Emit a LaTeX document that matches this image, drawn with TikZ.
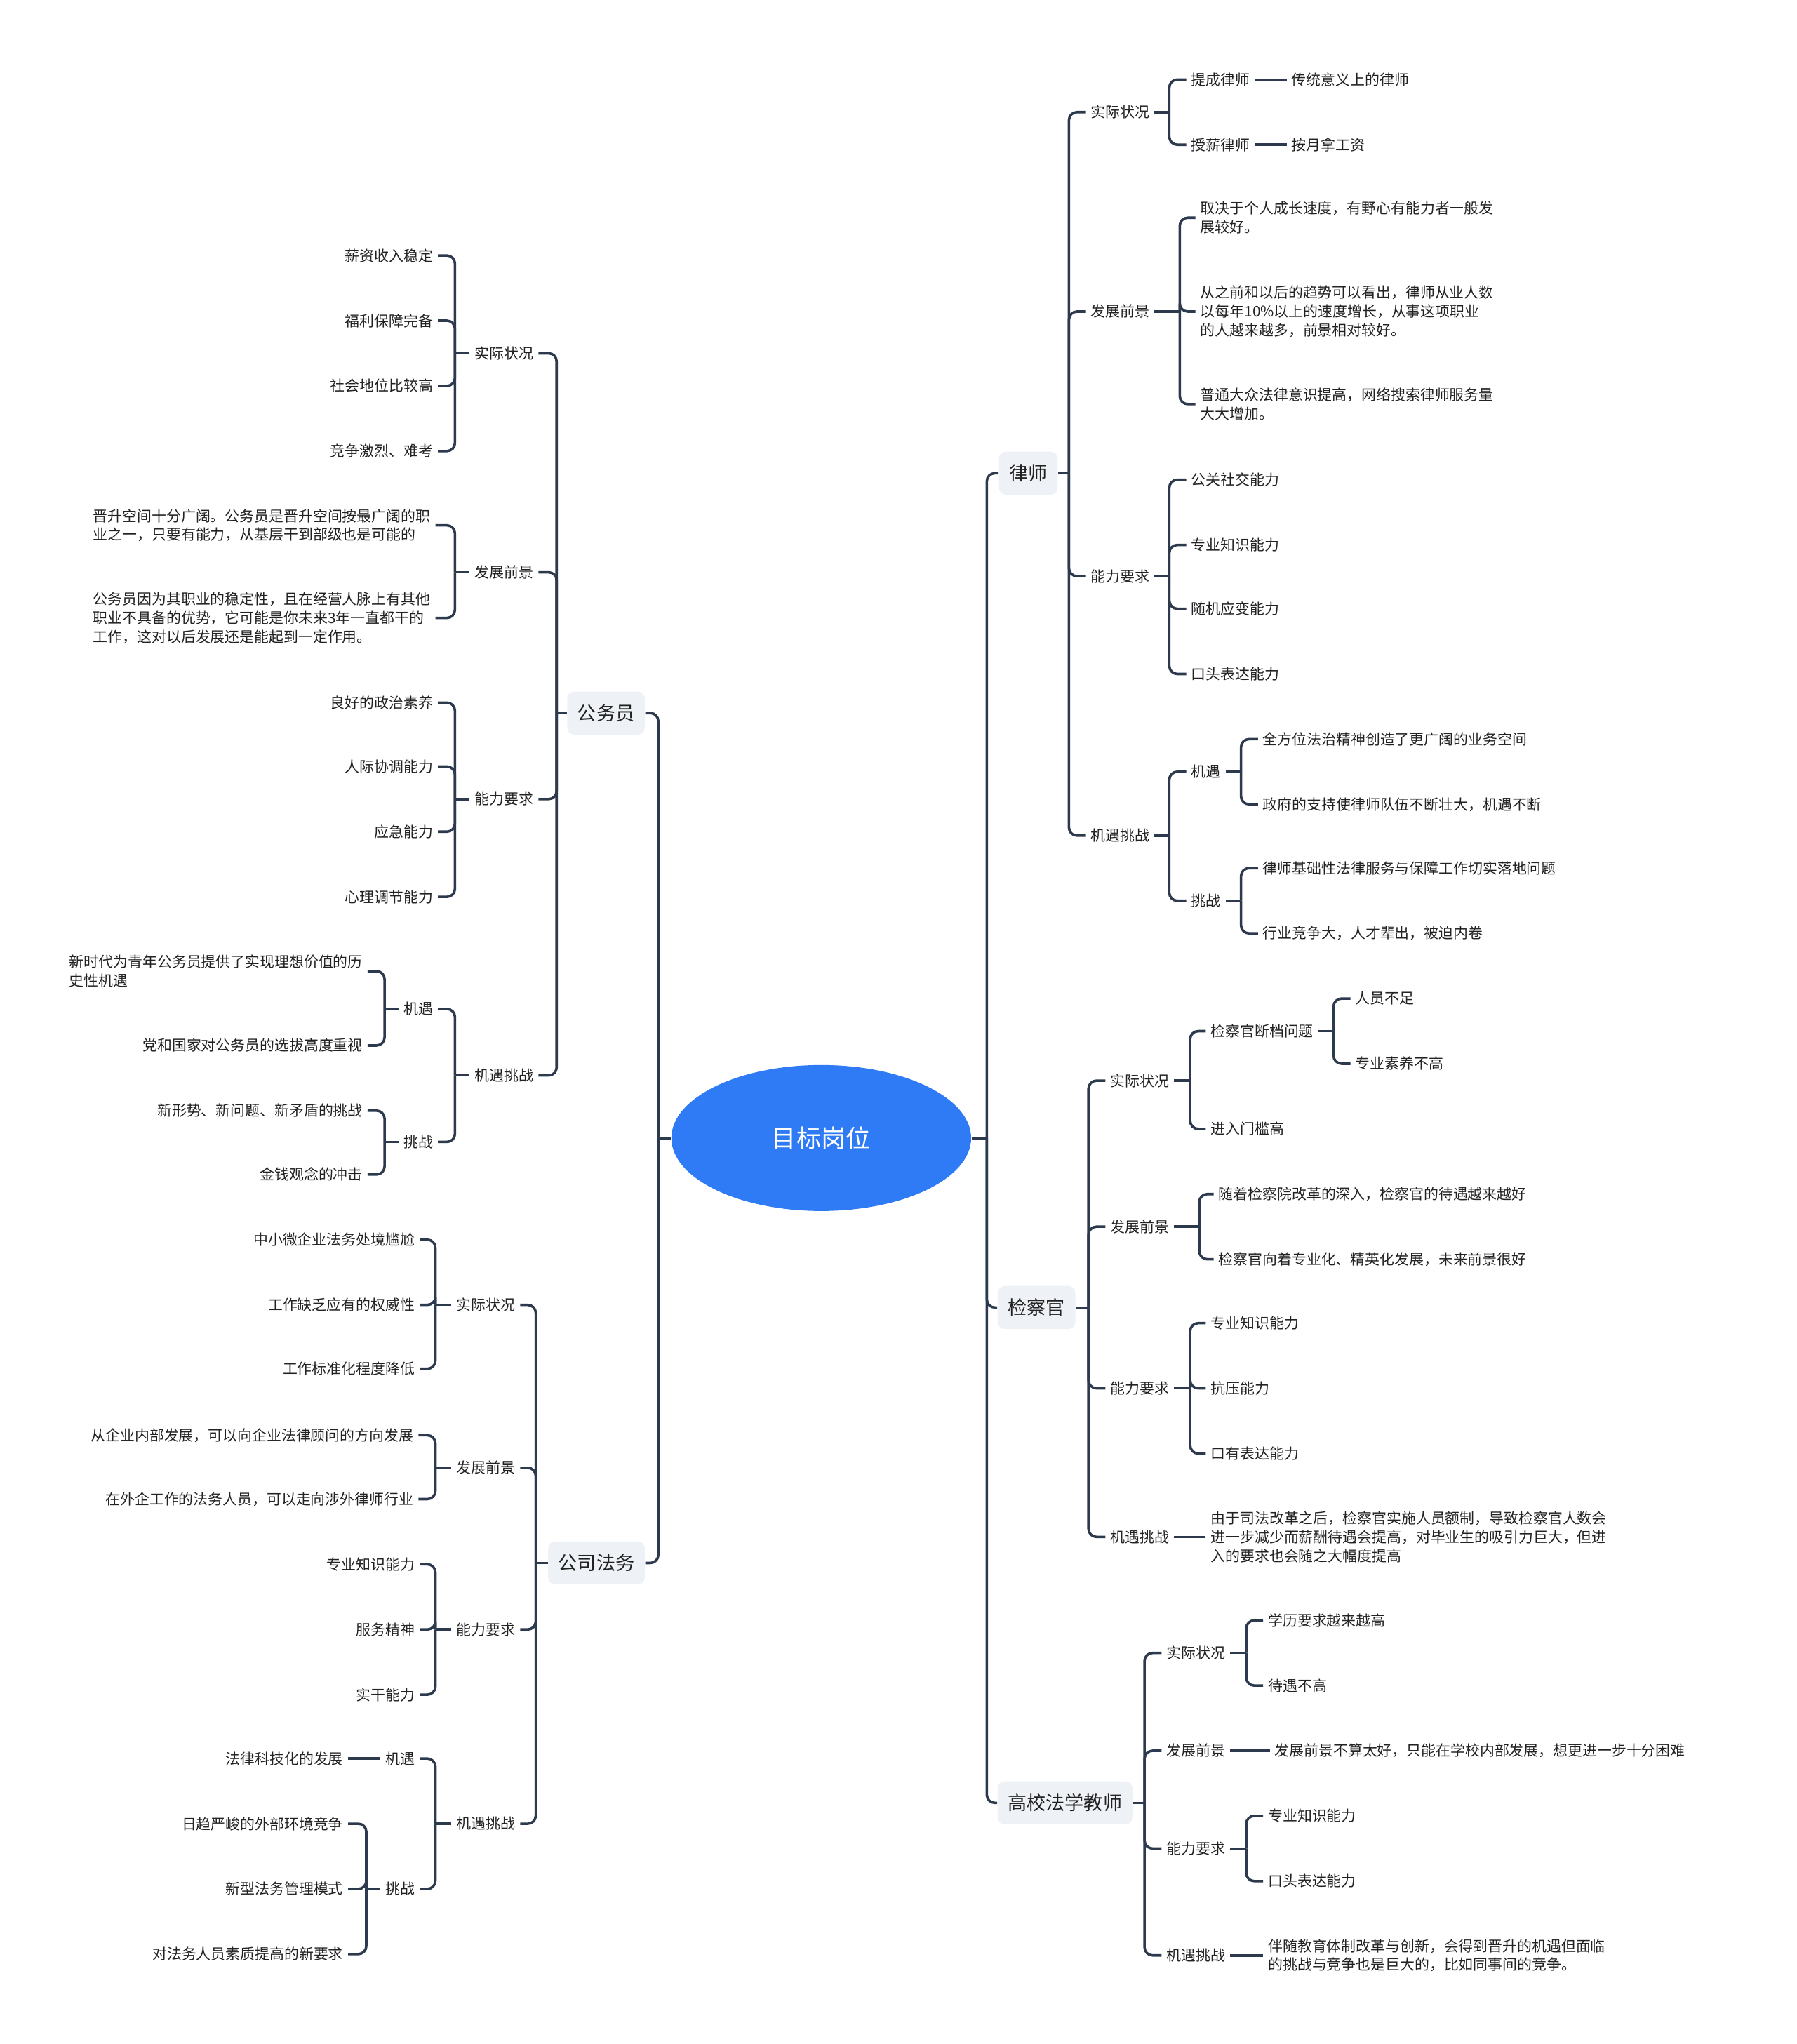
\documentclass[tikz,border=0pt]{standalone}
\usepackage{fontspec}
\newfontfamily\cjk{Noto Sans CJK SC}
\usetikzlibrary{shapes.geometric}
\definecolor{linec}{RGB}{45,58,78}
\definecolor{textc}{RGB}{34,34,34}
\definecolor{boxc}{RGB}{238,241,246}
\definecolor{rootc}{RGB}{46,123,245}
\begin{document}
\begin{tikzpicture}[x=0.02cm, y=-0.02cm,
        link/.style={draw=linec, line width=1.1pt, rounded corners=3.5pt},
        leaf/.style={font=\cjk\fontsize{6.4}{8.2}\selectfont, text=textc, inner xsep=2pt, inner ysep=1pt, align=left},
        rleaf/.style={leaf, anchor=west},
        lleaf/.style={leaf, anchor=east},
        topic/.style={fill=boxc, rounded corners=3pt, font=\cjk\fontsize{8.3}{10}\selectfont, text=textc, minimum height=0.66cm, inner xsep=4.5pt},
        hub/.style={ellipse, fill=rootc, text=white, minimum width=4.6cm, minimum height=2.24cm, inner sep=0pt, font=\cjk\fontsize{10.8}{13}\selectfont}
    ]
        \useasboundingbox (0,0) rectangle (1378,1568);

        % Centre
        \node[hub] (root) at (630,873) {目标岗位};

        % Main topics
        \node[topic, anchor=west] (ls) at (766,363) {律师};
        \node[topic, anchor=west] (jc) at (765,1003) {检察官};
        \node[topic, anchor=west] (gx) at (765,1383) {高校法学教师};
        \node[topic, anchor=east] (gw) at (495,547) {公务员};
        \node[topic, anchor=east] (fw) at (495,1199) {公司法务};

        % Lawyer
        \node[rleaf] (ls1) at (833,86) {实际状况};
        \node[rleaf] (ls1a) at (910,61) {提成律师};
        \node[rleaf] (ls1a1) at (987,61) {传统意义上的律师};
        \node[rleaf] (ls1b) at (910,111) {授薪律师};
        \node[rleaf] (ls1b1) at (987,111) {按月拿工资};
        \node[rleaf] (ls2) at (833,239) {发展前景};
        \node[rleaf] (ls2a) at (917,167) {取决于个人成长速度，有野心有能力者一般发\\展较好。};
        \node[rleaf] (ls2b) at (917,239) {从之前和以后的趋势可以看出，律师从业人数\\以每年10\%以上的速度增长，从事这项职业\\的人越来越多，前景相对较好。};
        \node[rleaf] (ls2c) at (917,310) {普通大众法律意识提高，网络搜索律师服务量\\大大增加。};
        \node[rleaf] (ls3) at (833,442) {能力要求};
        \node[rleaf] (ls3a) at (910,368) {公关社交能力};
        \node[rleaf] (ls3b) at (910,418) {专业知识能力};
        \node[rleaf] (ls3c) at (910,467) {随机应变能力};
        \node[rleaf] (ls3d) at (910,517) {口头表达能力};
        \node[rleaf] (ls4) at (833,641) {机遇挑战};
        \node[rleaf] (ls4a) at (910,592) {机遇};
        \node[rleaf] (ls4a1) at (965,567) {全方位法治精神创造了更广阔的业务空间};
        \node[rleaf] (ls4a2) at (965,617) {政府的支持使律师队伍不断壮大，机遇不断};
        \node[rleaf] (ls4b) at (910,691) {挑战};
        \node[rleaf] (ls4b1) at (965,666) {律师基础性法律服务与保障工作切实落地问题};
        \node[rleaf] (ls4b2) at (965,716) {行业竞争大，人才辈出，被迫内卷};

        % Prosecutor
        \node[rleaf] (jc1) at (848,829) {实际状况};
        \node[rleaf] (jc1a) at (925,791) {检察官断档问题};
        \node[rleaf] (jc1a1) at (1036,766) {人员不足};
        \node[rleaf] (jc1a2) at (1036,816) {专业素养不高};
        \node[rleaf] (jc1b) at (925,866) {进入门槛高};
        \node[rleaf] (jc2) at (848,941) {发展前景};
        \node[rleaf] (jc2a) at (931,916) {随着检察院改革的深入，检察官的待遇越来越好};
        \node[rleaf] (jc2b) at (931,966) {检察官向着专业化、精英化发展，未来前景很好};
        \node[rleaf] (jc3) at (848,1065) {能力要求};
        \node[rleaf] (jc3a) at (925,1015) {专业知识能力};
        \node[rleaf] (jc3b) at (925,1065) {抗压能力};
        \node[rleaf] (jc3c) at (925,1115) {口有表达能力};
        \node[rleaf] (jc4) at (848,1179) {机遇挑战};
        \node[rleaf] (jc4a) at (925,1179) {由于司法改革之后，检察官实施人员额制，导致检察官人数会\\进一步减少而薪酬待遇会提高，对毕业生的吸引力巨大，但进\\入的要求也会随之大幅度提高};

        % Law teacher
        \node[rleaf] (gx1) at (891,1268) {实际状况};
        \node[rleaf] (gx1a) at (969,1243) {学历要求越来越高};
        \node[rleaf] (gx1b) at (969,1293) {待遇不高};
        \node[rleaf] (gx2) at (891,1343) {发展前景};
        \node[rleaf] (gx2a) at (974,1343) {发展前景不算太好，只能在学校内部发展，想更进一步十分困难};
        \node[rleaf] (gx3) at (891,1418) {能力要求};
        \node[rleaf] (gx3a) at (969,1393) {专业知识能力};
        \node[rleaf] (gx3b) at (969,1443) {口头表达能力};
        \node[rleaf] (gx4) at (891,1500) {机遇挑战};
        \node[rleaf] (gx4a) at (969,1500) {伴随教育体制改革与创新，会得到晋升的机遇但面临\\的挑战与竞争也是巨大的，比如同事间的竞争。};

        % Civil servant
        \node[lleaf] (gw1) at (413,271) {实际状况};
        \node[lleaf] (gw1a) at (336,196) {薪资收入稳定};
        \node[lleaf] (gw1b) at (336,246) {福利保障完备};
        \node[lleaf] (gw1c) at (336,296) {社会地位比较高};
        \node[lleaf] (gw1d) at (336,346) {竞争激烈、难考};
        \node[lleaf] (gw2) at (413,439) {发展前景};
        \node[lleaf] (gw2a) at (334,403) {晋升空间十分广阔。公务员是晋升空间按最广阔的职\\业之一，只要有能力，从基层干到部级也是可能的};
        \node[lleaf] (gw2b) at (334,474) {公务员因为其职业的稳定性，且在经营人脉上有其他\\职业不具备的优势，它可能是你未来3年一直都干的\\工作，这对以后发展还是能起到一定作用。};
        \node[lleaf] (gw3) at (413,613) {能力要求};
        \node[lleaf] (gw3a) at (336,539) {良好的政治素养};
        \node[lleaf] (gw3b) at (336,588) {人际协调能力};
        \node[lleaf] (gw3c) at (336,638) {应急能力};
        \node[lleaf] (gw3d) at (336,688) {心理调节能力};
        \node[lleaf] (gw4) at (413,825) {机遇挑战};
        \node[lleaf] (gw4a) at (336,774) {机遇};
        \node[lleaf] (gw4a1) at (282,745) {新时代为青年公务员提供了实现理想价值的历\\史性机遇};
        \node[lleaf] (gw4a2) at (282,802) {党和国家对公务员的选拔高度重视};
        \node[lleaf] (gw4b) at (336,876) {挑战};
        \node[lleaf] (gw4b1) at (282,852) {新形势、新问题、新矛盾的挑战};
        \node[lleaf] (gw4b2) at (282,901) {金钱观念的冲击};

        % Corporate legal
        \node[lleaf] (fw1) at (399,1001) {实际状况};
        \node[lleaf] (fw1a) at (322,951) {中小微企业法务处境尴尬};
        \node[lleaf] (fw1b) at (322,1001) {工作缺乏应有的权威性};
        \node[lleaf] (fw1c) at (322,1050) {工作标准化程度降低};
        \node[lleaf] (fw2) at (399,1126) {发展前景};
        \node[lleaf] (fw2a) at (321,1101) {从企业内部发展，可以向企业法律顾问的方向发展};
        \node[lleaf] (fw2b) at (321,1150) {在外企工作的法务人员，可以走向涉外律师行业};
        \node[lleaf] (fw3) at (399,1250) {能力要求};
        \node[lleaf] (fw3a) at (322,1200) {专业知识能力};
        \node[lleaf] (fw3b) at (322,1250) {服务精神};
        \node[lleaf] (fw3c) at (322,1300) {实干能力};
        \node[lleaf] (fw4) at (399,1399) {机遇挑战};
        \node[lleaf] (fw4a) at (322,1349) {机遇};
        \node[lleaf] (fw4a1) at (267,1349) {法律科技化的发展};
        \node[lleaf] (fw4b) at (322,1449) {挑战};
        \node[lleaf] (fw4b1) at (267,1399) {日趋严峻的外部环境竞争};
        \node[lleaf] (fw4b2) at (267,1449) {新型法务管理模式};
        \node[lleaf] (fw4b3) at (267,1499) {对法务人员素质提高的新要求};

        % Trunks from the centre
        \draw[link] (root) -- (root -| 757,0);
        \draw[link] (root -| 757,0) |- (ls);
        \draw[link] (root -| 757,0) |- (jc);
        \draw[link] (root -| 757,0) |- (gx);
        \draw[link] (root) -- (root -| 505,0);
        \draw[link] (root -| 505,0) |- (gw);
        \draw[link] (root -| 505,0) |- (fw);

        % Lawyer links
        \draw[link] (ls) -- (ls -| 820,0);
        \draw[link] (ls -| 820,0) |- (ls1);
        \draw[link] (ls -| 820,0) |- (ls2);
        \draw[link] (ls -| 820,0) |- (ls3);
        \draw[link] (ls -| 820,0) |- (ls4);
        \draw[link] (ls1) -- (ls1 -| 897,0);
        \draw[link] (ls1 -| 897,0) |- (ls1a);
        \draw[link] (ls1 -| 897,0) |- (ls1b);
        \draw[link] (ls1a) -- (ls1a1);
        \draw[link] (ls1b) -- (ls1b1);
        \draw[link] (ls2) -- (ls2 -| 905,0);
        \draw[link] (ls2 -| 905,0) |- (ls2a);
        \draw[link] (ls2 -| 905,0) |- (ls2b);
        \draw[link] (ls2 -| 905,0) |- (ls2c);
        \draw[link] (ls3) -- (ls3 -| 897,0);
        \draw[link] (ls3 -| 897,0) |- (ls3a);
        \draw[link] (ls3 -| 897,0) |- (ls3b);
        \draw[link] (ls3 -| 897,0) |- (ls3c);
        \draw[link] (ls3 -| 897,0) |- (ls3d);
        \draw[link] (ls4) -- (ls4 -| 897,0);
        \draw[link] (ls4 -| 897,0) |- (ls4a);
        \draw[link] (ls4 -| 897,0) |- (ls4b);
        \draw[link] (ls4a) -- (ls4a -| 952,0);
        \draw[link] (ls4a -| 952,0) |- (ls4a1);
        \draw[link] (ls4a -| 952,0) |- (ls4a2);
        \draw[link] (ls4b) -- (ls4b -| 952,0);
        \draw[link] (ls4b -| 952,0) |- (ls4b1);
        \draw[link] (ls4b -| 952,0) |- (ls4b2);

        % Prosecutor links
        \draw[link] (jc) -- (jc -| 835,0);
        \draw[link] (jc -| 835,0) |- (jc1);
        \draw[link] (jc -| 835,0) |- (jc2);
        \draw[link] (jc -| 835,0) |- (jc3);
        \draw[link] (jc -| 835,0) |- (jc4);
        \draw[link] (jc1) -- (jc1 -| 913,0);
        \draw[link] (jc1 -| 913,0) |- (jc1a);
        \draw[link] (jc1 -| 913,0) |- (jc1b);
        \draw[link] (jc1a) -- (jc1a -| 1023,0);
        \draw[link] (jc1a -| 1023,0) |- (jc1a1);
        \draw[link] (jc1a -| 1023,0) |- (jc1a2);
        \draw[link] (jc2) -- (jc2 -| 920,0);
        \draw[link] (jc2 -| 920,0) |- (jc2a);
        \draw[link] (jc2 -| 920,0) |- (jc2b);
        \draw[link] (jc3) -- (jc3 -| 913,0);
        \draw[link] (jc3 -| 913,0) |- (jc3a);
        \draw[link] (jc3 -| 913,0) |- (jc3b);
        \draw[link] (jc3 -| 913,0) |- (jc3c);
        \draw[link] (jc4) -- (jc4a);

        % Law teacher links
        \draw[link] (gx) -- (gx -| 878,0);
        \draw[link] (gx -| 878,0) |- (gx1);
        \draw[link] (gx -| 878,0) |- (gx2);
        \draw[link] (gx -| 878,0) |- (gx3);
        \draw[link] (gx -| 878,0) |- (gx4);
        \draw[link] (gx1) -- (gx1 -| 956,0);
        \draw[link] (gx1 -| 956,0) |- (gx1a);
        \draw[link] (gx1 -| 956,0) |- (gx1b);
        \draw[link] (gx2) -- (gx2a);
        \draw[link] (gx3) -- (gx3 -| 956,0);
        \draw[link] (gx3 -| 956,0) |- (gx3a);
        \draw[link] (gx3 -| 956,0) |- (gx3b);
        \draw[link] (gx4) -- (gx4a);

        % Civil servant links
        \draw[link] (gw) -- (gw -| 427,0);
        \draw[link] (gw -| 427,0) |- (gw1);
        \draw[link] (gw -| 427,0) |- (gw2);
        \draw[link] (gw -| 427,0) |- (gw3);
        \draw[link] (gw -| 427,0) |- (gw4);
        \draw[link] (gw1) -- (gw1 -| 349,0);
        \draw[link] (gw1 -| 349,0) |- (gw1a);
        \draw[link] (gw1 -| 349,0) |- (gw1b);
        \draw[link] (gw1 -| 349,0) |- (gw1c);
        \draw[link] (gw1 -| 349,0) |- (gw1d);
        \draw[link] (gw2) -- (gw2 -| 349,0);
        \draw[link] (gw2 -| 349,0) |- (gw2a);
        \draw[link] (gw2 -| 349,0) |- (gw2b);
        \draw[link] (gw3) -- (gw3 -| 349,0);
        \draw[link] (gw3 -| 349,0) |- (gw3a);
        \draw[link] (gw3 -| 349,0) |- (gw3b);
        \draw[link] (gw3 -| 349,0) |- (gw3c);
        \draw[link] (gw3 -| 349,0) |- (gw3d);
        \draw[link] (gw4) -- (gw4 -| 349,0);
        \draw[link] (gw4 -| 349,0) |- (gw4a);
        \draw[link] (gw4 -| 349,0) |- (gw4b);
        \draw[link] (gw4a) -- (gw4a -| 295,0);
        \draw[link] (gw4a -| 295,0) |- (gw4a1);
        \draw[link] (gw4a -| 295,0) |- (gw4a2);
        \draw[link] (gw4b) -- (gw4b -| 295,0);
        \draw[link] (gw4b -| 295,0) |- (gw4b1);
        \draw[link] (gw4b -| 295,0) |- (gw4b2);

        % Corporate legal links
        \draw[link] (fw) -- (fw -| 411,0);
        \draw[link] (fw -| 411,0) |- (fw1);
        \draw[link] (fw -| 411,0) |- (fw2);
        \draw[link] (fw -| 411,0) |- (fw3);
        \draw[link] (fw -| 411,0) |- (fw4);
        \draw[link] (fw1) -- (fw1 -| 334,0);
        \draw[link] (fw1 -| 334,0) |- (fw1a);
        \draw[link] (fw1 -| 334,0) |- (fw1b);
        \draw[link] (fw1 -| 334,0) |- (fw1c);
        \draw[link] (fw2) -- (fw2 -| 334,0);
        \draw[link] (fw2 -| 334,0) |- (fw2a);
        \draw[link] (fw2 -| 334,0) |- (fw2b);
        \draw[link] (fw3) -- (fw3 -| 334,0);
        \draw[link] (fw3 -| 334,0) |- (fw3a);
        \draw[link] (fw3 -| 334,0) |- (fw3b);
        \draw[link] (fw3 -| 334,0) |- (fw3c);
        \draw[link] (fw4) -- (fw4 -| 334,0);
        \draw[link] (fw4 -| 334,0) |- (fw4a);
        \draw[link] (fw4 -| 334,0) |- (fw4b);
        \draw[link] (fw4a) -- (fw4a1);
        \draw[link] (fw4b) -- (fw4b -| 281,0);
        \draw[link] (fw4b -| 281,0) |- (fw4b1);
        \draw[link] (fw4b -| 281,0) |- (fw4b2);
        \draw[link] (fw4b -| 281,0) |- (fw4b3);
    \end{tikzpicture}
\end{document}
